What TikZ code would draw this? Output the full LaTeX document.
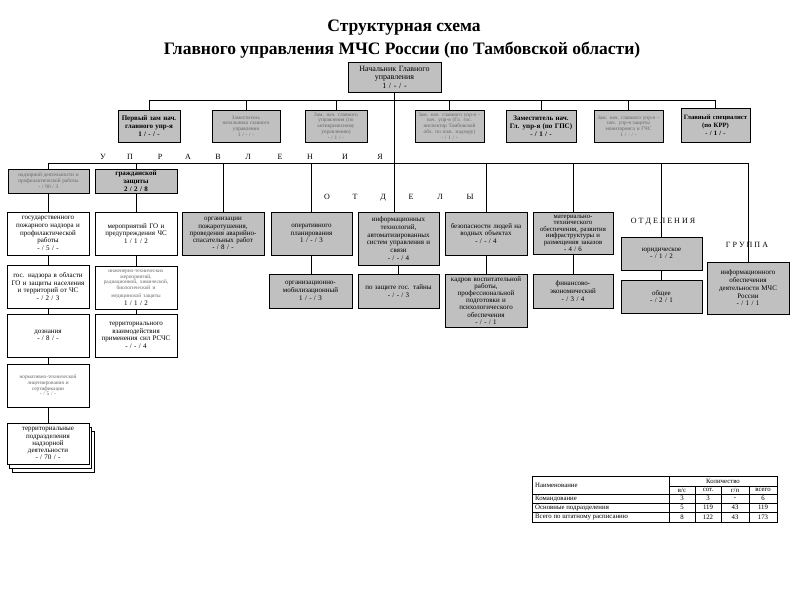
\documentclass[tikz,border=0pt]{standalone}
\usepackage{fontspec}
\setmainfont{Liberation Serif}
\definecolor{boxgray}{HTML}{C0C0C0}
\newcommand\bxnode[7]{%
  \node[#6, minimum width=\dimexpr #4pt-#2pt\relax, minimum height=\dimexpr #5pt-#3pt\relax,
        text width=\dimexpr #4pt-#2pt-3pt\relax] (#1) at ({(#2+#4)/2},{(#3+#5)/2}) {#7};}
\begin{document}
\begin{tikzpicture}[x=1pt,y=-1pt,
  base/.style={draw=black, line width=0.8pt, align=center, inner sep=0.5pt, font=\fontsize{7}{7.7}\selectfont},
  gb/.style={base, fill=boxgray},
  wb/.style={base, fill=white},
  sm/.style={font=\fontsize{5.3}{5.8}\selectfont, text=black!60},
  bf/.style={font=\fontsize{7}{7.8}\selectfont\bfseries},
  tight/.style={font=\fontsize{7}{7.1}\selectfont},
  lab/.style={font=\fontsize{8}{8}\selectfont, inner sep=0pt, anchor=base},
  conn/.style={draw=black, line width=0.8pt},
  title/.style={font=\fontsize{17.5}{20}\selectfont\bfseries, inner sep=0pt}]
\useasboundingbox (0,0) rectangle (800,600);
\fill[white] (0,0) rectangle (800,600);

\node[title] (t1) at (404,28) {Структурная схема};
\node[title] (t2) at (402,50) {Главного управления МЧС России (по Тамбовской области)};

% top
\bxnode{top}{348}{62}{441}{92}{gb, font=\fontsize{8}{8.5}\selectfont}{Начальник Главного\\управления\\1 / - / -}
% row 1
\bxnode{b1}{118}{110}{180}{142}{gb, bf}{Первый зам нач.\\главного упр-я\\1 / - / -}
\bxnode{b2}{212}{110}{280}{142}{gb, sm}{Заместитель\\начальника главного\\управления\\1 / - / -}
\bxnode{b3}{305}{110}{367}{142}{gb, sm}{Зам. нач. главного\\управления (по\\антикризисному\\управлению)\\- / 1 / -}
\bxnode{b4}{415}{110}{484}{142}{gb, sm}{Зам. нач. главного упр-я –\\нач. упр-я (Гл. гос.\\инспектор Тамбовской\\обл. по пож. надзору)\\- / 1 / -}
\bxnode{b5}{506}{110}{576}{142}{gb, bf}{Заместитель нач.\\Гл. упр-я (по ГПС)\\- / 1 / -}
\bxnode{b6}{594}{110}{663}{142}{gb, sm}{Зам. нач. главного упр-я –\\нач. упр-я защиты\\мониторинга и ГЧС\\1 / - / -}
\bxnode{b7}{681}{108}{750}{142}{gb, bf, font=\fontsize{6.6}{7.8}\selectfont\bfseries}{Главный специалист\\(по КРР)\\- / 1 / -}

% left columns
\bxnode{L0a}{8}{169}{89}{193}{gb, sm}{надзорной деятельности и\\профилактической работы\\- / 90 / 3}
\bxnode{L0b}{95}{169}{177}{193}{gb, bf}{гражданской\\защиты\\2 / 2 / 8}
\bxnode{L1a}{7}{212}{89}{255}{wb}{государственного\\пожарного надзора и\\профилактической\\работы\\- / 5 / -}
\bxnode{L1b}{95}{212}{177}{255}{wb}{мероприятий ГО и\\предупреждения ЧС\\1 / 1 / 2}
\bxnode{L2a}{7}{265}{89}{308}{wb}{гос. надзора в области\\ГО и защиты населения\\и территорий от ЧС\\- / 2 / 3}
\bxnode{L2b}{95}{266}{177}{309}{wb}{{\color{black!60}\fontsize{5.3}{5.8}\selectfont инженерно-технических\\мероприятий,\\радиационной, химической,\\биологической и\\медицинской защиты}\\1 / 1 / 2}
\bxnode{L3a}{7}{314}{89}{357}{wb}{дознания\\- / 8 / -}
\bxnode{L3b}{95}{314}{177}{357}{wb}{территориального\\взаимодействия\\применения сил РСЧС\\- / - / 4}
\bxnode{L4a}{7}{364}{89}{407}{wb, sm}{нормативно-технической\\лицензирования и\\сертификации\\- / 5 / -}
\draw[fill=white, line width=0.8pt] (12,431) rectangle (94,472);
\draw[fill=white, line width=0.8pt] (9.5,427) rectangle (91.5,468);
\bxnode{L5}{7}{423}{89}{464}{wb, tight}{территориальные\\подразделения\\надзорной\\деятельности\\- / 70 / -}

% middle
\bxnode{M1}{182}{212}{264}{255}{gb, tight}{организации\\пожаротушения,\\проведения аварийно-\\спасательных работ\\- / 8 / -}
\bxnode{M2}{271}{212}{352}{255}{gb}{оперативного\\планирования\\1 / - / 3}
\bxnode{M2b}{269}{274}{352}{308}{gb}{организационно-\\мобилизационный\\1 / - / 3}
\bxnode{M3}{358}{212}{439}{265}{gb}{информационных\\технологий,\\автоматизированных\\систем управления и\\связи\\- / - / 4}
\bxnode{M3b}{358}{274}{439}{308}{gb}{по защите гос. тайны\\- / - / 3}
\bxnode{M4}{445}{212}{527}{255}{gb}{безопасности людей на\\водных объектах\\- / - / 4}
\bxnode{M4b}{445}{274}{527}{327}{gb, tight}{кадров воспитательной\\работы,\\профессиональной\\подготовки и\\психологического\\обеспечения\\- / - / 1}
\bxnode{M5}{533}{212}{613}{254}{gb, font=\fontsize{6.8}{6.6}\selectfont}{материально-\\технического\\обеспечения, развития\\инфраструктуры и\\размещения заказов\\- 4 / 6}
\bxnode{M5b}{533}{274}{613}{308}{gb}{финансово-\\экономический\\- / 3 / 4}
\bxnode{R1}{621}{237}{702}{270}{gb}{юридическое\\- / 1 / 2}
\bxnode{R1b}{621}{280}{702}{313}{gb}{общее\\- / 2 / 1}
\bxnode{R2}{707}{262}{789}{314}{gb}{информационного\\обеспечения\\деятельности МЧС\\России\\- / 1 / 1}

% labels
\foreach \x/\l [count=\i] in {103/У,130/П,160/Р,188/А,218/В,248/Л,280/Е,310/Н,345/И,380/Я}
  \node[lab] (u\i) at (\x,159) {\l};
\foreach \x/\l [count=\i] in {327/О,355/Т,383/Д,411/Е,440/Л,470/Ы}
  \node[lab] (o\i) at (\x,199) {\l};
\node[lab] (otd) at (663,223) {О Т Д Е Л Е Н И Я};
\node[lab] (grp) at (747,247) {Г Р У П П А};

% connectors
\coordinate (busA) at (0,100);
\coordinate (busB) at (0,163);
\draw[conn] (b1.north |- busA) -- (b7.north |- busA);
\foreach \n in {b1,b2,b3,b4,b5,b6,b7} \draw[conn] (\n.north) -- (\n.north |- busA);
\draw[conn] (top.south) -- (top.south |- M3.north);
\draw[conn] (L0a.north |- busB) -- (R2.north |- busB);
\foreach \n in {L0a,L0b,M1,M2,M4,M5,R1,R2} \draw[conn] (\n.north) -- (\n.north |- busB);
\foreach \a/\b in {L0a/L1a,L1a/L2a,L2a/L3a,L3a/L4a,L4a/L5,L0b/L1b,L1b/L2b,L2b/L3b,M2/M2b,M3/M3b,M4/M4b,M5/M5b,R1/R1b}
  \draw[conn] (\a.south) -- (\a.south |- \b.north);

% table
\begin{scope}[line width=0.6pt]
\draw (532,476) rectangle (777,522);
\draw (669,486) -- (777,486);
\draw (532,494) -- (777,494);
\draw (532,503) -- (777,503);
\draw (532,512) -- (777,512);
\draw (669,476) -- (669,522);
\foreach \x in {695,721,749} \draw (\x,486) -- (\x,522);
\end{scope}
\begin{scope}[every node/.style={font=\fontsize{6.8}{7}\selectfont, inner sep=0pt}]
\node[anchor=west] (th1) at (535,485) {Наименование};
\node (th2) at (723,481) {Количество};
\node (c1) at (682,490) {в/с};
\node (c2) at (708,490) {сот.};
\node (c3) at (735,490) {г/п};
\node (c4) at (763,490) {всего};
\node[anchor=west] (r1) at (535,498.5) {Командование};
\node[anchor=west] (r2) at (535,507.5) {Основные подразделения};
\node[anchor=west] (r3) at (535,517) {Всего по штатному расписанию};
\foreach \y/\a/\b/\c/\d [count=\i] in {498.5/3/3/-/6, 507.5/5/119/43/119, 517/8/122/43/173}{
  \node (v\i a) at (682,\y) {\a};
  \node (v\i b) at (708,\y) {\b};
  \node (v\i c) at (735,\y) {\c};
  \node (v\i d) at (763,\y) {\d};
}
\end{scope}
\end{tikzpicture}
\end{document}
